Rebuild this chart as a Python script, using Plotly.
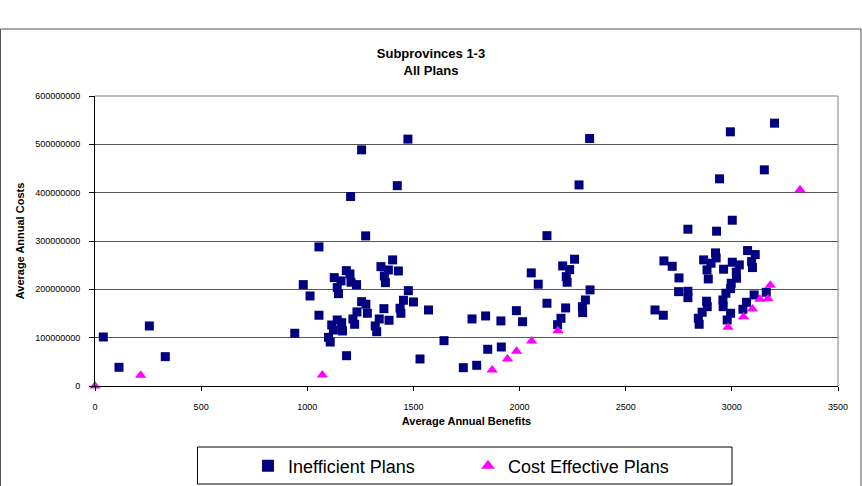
import plotly.graph_objects as go

# Inefficient plans: benefits (x) and costs in millions (y)
ineff_benefits = [39, 113, 256, 331,
    1474, 1256, 1424, 1204, 1275, 1055, 1402, 1347, 1382, 1429, 1184, 1201, 1127, 1159,
    1206, 1232, 1363, 1368, 981, 1141, 1147, 1013, 1476, 1453, 1500, 1256, 1276, 1437,
    1441, 1361, 1283, 1234, 1215, 1223, 1339, 1385, 1320, 1327, 1571, 1055, 1115, 1141,
    1162, 1166, 1123, 1100, 1108, 941, 1185, 1644, 1531, 1776, 1735, 1798,
    2330, 2280, 2129, 2259, 2203, 2236, 2220, 2224, 2055, 2088, 2332, 2310, 2296, 2297,
    2129, 2217, 2195, 2179, 1985, 2014, 1840, 1912, 1850, 1914,
    2638, 2677, 2680, 3201, 2993, 3153, 2942, 3002, 2793, 2928, 3074, 3110, 3093, 3097,
    2719, 2751, 2923, 2926, 2867, 2902, 2883, 2889, 3002, 3035, 2961, 3021, 3022, 2997,
    2994, 2972, 2749, 2793, 2793, 2881, 2884, 2860, 2842, 2846, 2958, 2959, 2994, 2978,
    3105, 3069, 3052, 3162]
ineff_costs_m = [101.4, 38.7, 124.2, 60.7,
    510.8, 488.6, 414.5, 392.0, 310.6, 287.8, 260.9, 247.0, 240.0, 238.0, 238.7, 231.9, 224.2, 217.4,
    214.7, 209.8, 227.7, 213.9, 209.8, 203.6, 191.1, 186.3, 197.3, 177.4, 173.9, 174.5, 169.1, 160.8,
    150.5, 160.0, 150.5, 153.2, 138.7, 127.7, 138.7, 136.0, 124.2, 112.4, 157.3, 146.4, 126.3, 136.6,
    131.0, 113.9, 115.9, 100.7, 91.0, 109.1, 62.7, 93.8, 55.9, 138.7, 37.9, 42.8,
    512.0, 416.0, 311.0, 262.3, 248.4, 240.8, 226.3, 214.7, 234.0, 210.6, 198.8, 178.0, 164.2, 151.8,
    171.2, 161.5, 140.1, 126.9, 155.9, 133.1, 144.9, 134.6, 76.0, 80.7,
    157.3, 146.4, 258.8, 543.8, 525.9, 447.2, 428.6, 343.0, 324.4, 320.3, 280.2, 271.9, 257.4, 245.0,
    247.7, 223.6, 275.4, 265.0, 260.9, 254.0, 240.2, 221.5, 256.1, 250.5, 241.6, 235.4, 223.0, 212.6,
    201.4, 191.9, 195.2, 196.0, 182.8, 175.4, 164.2, 152.6, 140.2, 127.7, 178.0, 164.2, 150.5, 136.6,
    188.4, 173.2, 158.8, 193.9]

# Cost effective plans
ce_benefits = [0, 215, 1071, 1871, 1943, 1986, 2057, 2181, 2982, 3055, 3097, 3132, 3170, 3181, 3321]
ce_costs_m = [0, 22.0, 22.8, 33.1, 55.9, 71.8, 93.2, 114.5, 121.5, 143.5, 159.4, 179.5, 180.7, 208.5, 405.8]

y_ticks = [0, 100000000, 200000000, 300000000, 400000000, 500000000, 600000000]
x_ticks = [0, 500, 1000, 1500, 2000, 2500, 3000, 3500]

ineff_costs = [v * 1e6 for v in ineff_costs_m]
ce_costs = [v * 1e6 for v in ce_costs_m]

FONT = "Liberation Sans, Arial, sans-serif"

fig = go.Figure()
fig.add_trace(go.Scatter(
    x=ineff_benefits, y=ineff_costs, mode="markers", name="Inefficient Plans",
    marker=dict(symbol="square", size=9, color="#000080", line=dict(width=0)),
    cliponaxis=False))
fig.add_trace(go.Scatter(
    x=ce_benefits, y=ce_costs, mode="markers", name="Cost Effective Plans",
    marker=dict(symbol="triangle-up", size=10, color="#FF00FF", line=dict(width=0)),
    cliponaxis=False))

L, R, T, B = 95, 24, 96, 100
W, H = 862, 486
pw, ph = W - L - R, H - T - B

def px(xp):
    return (xp - L) / pw

def py(yp):
    return (H - B - yp) / ph

fig.update_layout(
    width=W, height=H,
    margin=dict(l=L, r=R, t=T, b=B, autoexpand=False),
    paper_bgcolor="white", plot_bgcolor="white",
    font=dict(family=FONT, color="black"),
    title=dict(text="<b>Subprovinces 1-3<br>All Plans</b>", x=0.5, xanchor="center",
               y=1 - 58 / H, yanchor="middle", yref="container",
               font=dict(size=13, family=FONT, color="black")),
    showlegend=True,
    legend=dict(orientation="h", x=px(248), xanchor="left",
                yref="container", y=1 - 466 / H, yanchor="middle",
                font=dict(size=18, family=FONT), bgcolor="rgba(0,0,0,0)",
                borderwidth=0, entrywidth=175, entrywidthmode="pixels",
                itemsizing="constant"),
    xaxis=dict(range=[0, 3500], tickvals=x_ticks, ticktext=[str(v) for v in x_ticks],
               showgrid=False, zeroline=False, showline=True, linecolor="black", linewidth=1,
               ticks="outside", ticklen=4, tickcolor="black", ticklabelstandoff=8,
               tickfont=dict(size=9, family=FONT),
               title=dict(text="<b>Average Annual Benefits</b>", font=dict(size=11, family=FONT),
                          standoff=6),
               mirror=False),
    yaxis=dict(range=[0, 600000000], tickvals=y_ticks, ticktext=[str(v) for v in y_ticks],
               showgrid=True, gridcolor="#555555", gridwidth=1, zeroline=False,
               showline=True, linecolor="black", linewidth=1,
               ticks="outside", ticklen=5, tickcolor="black", ticklabelstandoff=7,
               tickfont=dict(size=9, family=FONT),
               title=dict(text="<b>Average Annual Costs</b>", font=dict(size=11, family=FONT),
                          standoff=8)),
    shapes=[
        # outer chart border
        dict(type="rect", xref="paper", yref="paper", x0=px(0.5), x1=px(861), y0=py(495), y1=py(29),
             line=dict(color="#555555", width=1), fillcolor="rgba(0,0,0,0)", layer="below"),
        # plot area border (top/right gray)
        dict(type="line", xref="paper", yref="paper", x0=0, x1=1, y0=1, y1=1,
             line=dict(color="#808080", width=1)),
        dict(type="line", xref="paper", yref="paper", x0=1, x1=1, y0=0, y1=1,
             line=dict(color="#808080", width=1)),
        # legend box
        dict(type="rect", xref="paper", yref="paper", x0=px(197.5), x1=px(732), y0=py(484), y1=py(447),
             line=dict(color="black", width=1), fillcolor="rgba(0,0,0,0)"),
    ],
)

fig.write_html("out.html")
